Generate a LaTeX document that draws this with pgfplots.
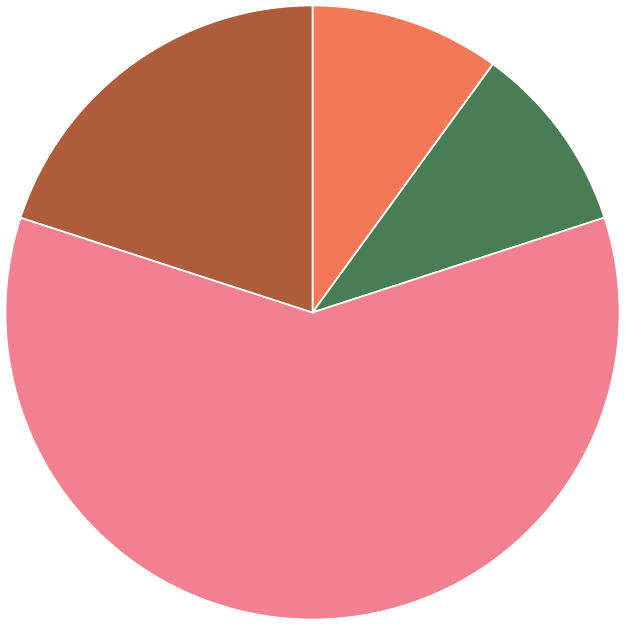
\documentclass[border=0pt]{standalone}
\usepackage{pgfplots}
\pgfplotsset{compat=1.18}
\definecolor{cA}{RGB}{242,120,88}
\definecolor{cB}{RGB}{73,125,83}
\definecolor{cC}{RGB}{242,128,144}
\definecolor{cD}{RGB}{174,92,60}
\begin{document}
\begin{tikzpicture}
\begin{axis}[
  hide axis, scale only axis, width=8cm, height=8cm,
  xmin=-1.018, xmax=1.018, ymin=-1.018, ymax=1.018,
  clip=false,
]
\addplot[draw=none, forget plot] coordinates {(-1.018,-1.018) (1.018,1.018)};
% slice shares (percent): 10, 10, 60, 20 ; domains are cumulative percentages
\addplot[fill=cA, draw=white, line width=0.6pt, domain=0:10, samples=20, smooth]
  ({sin(3.6*x)},{cos(3.6*x)}) -- (axis cs:0,0) -- cycle;
\addplot[fill=cB, draw=white, line width=0.6pt, domain=10:20, samples=20, smooth]
  ({sin(3.6*x)},{cos(3.6*x)}) -- (axis cs:0,0) -- cycle;
\addplot[fill=cC, draw=white, line width=0.6pt, domain=20:80, samples=100, smooth]
  ({sin(3.6*x)},{cos(3.6*x)}) -- (axis cs:0,0) -- cycle;
\addplot[fill=cD, draw=white, line width=0.6pt, domain=80:100, samples=30, smooth]
  ({sin(3.6*x)},{cos(3.6*x)}) -- (axis cs:0,0) -- cycle;
\end{axis}
\end{tikzpicture}
\end{document}
